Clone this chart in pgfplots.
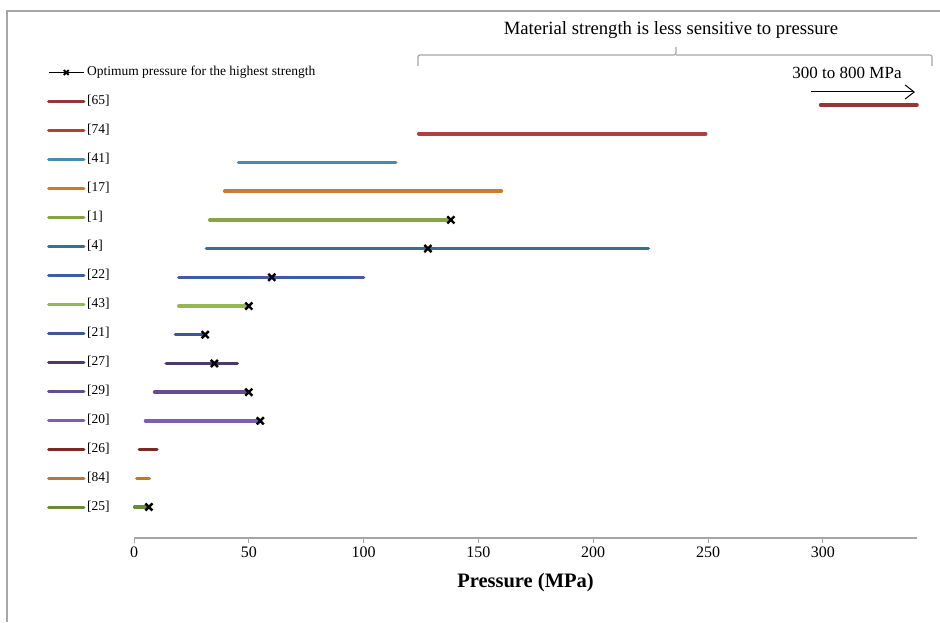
\documentclass[border=0pt]{standalone}
\usepackage{fontspec}
\setmainfont{Liberation Serif}
\usepackage{pgfplots}
\pgfplotsset{compat=1.18}
\usetikzlibrary{arrows.meta}
\definecolor{c65}{HTML}{943634}
\definecolor{c74}{HTML}{AE403D}
\definecolor{c41}{HTML}{4A8AAE}
\definecolor{c17}{HTML}{CC7A30}
\definecolor{c1}{HTML}{86A443}
\definecolor{c4}{HTML}{3F6F88}
\definecolor{c22}{HTML}{3F5CA6}
\definecolor{c43}{HTML}{93B84E}
\definecolor{c21}{HTML}{3B5794}
\definecolor{c27}{HTML}{4B3A6A}
\definecolor{c29}{HTML}{664B93}
\definecolor{c20}{HTML}{7D5EAF}
\definecolor{c26}{HTML}{7A2A24}
\definecolor{c84}{HTML}{BF7630}
\definecolor{c25}{HTML}{6A8C33}
\definecolor{gline}{HTML}{A6A6A6}
\begin{document}
\begin{tikzpicture}
\begin{axis}[
  scale only axis, width=783pt, height=527pt,
  xmin=0, xmax=341, ymin=-0.08, ymax=18.276,
  axis x line=bottom, axis y line=none,
  x axis line style={-, draw=gline, line width=1.2pt},
  xtick={0,50,...,300}, ytick=\empty,
  tick align=outside, major tick length=5pt,
  xtick style={draw=gline, line width=0.8pt},
  /pgf/number format/assume math mode=true,
  tick label style={font=\fontsize{16}{18}\selectfont},
  xlabel={\textbf{Pressure (MPa)}},
  xlabel style={font=\fontsize{20.5}{22}\selectfont, yshift=-9pt},
  clip=false,
  legend cell align=left,
  legend style={at={(rel axis cs:-0.1111,0.8947)}, anchor=north west,
    draw=none, fill=none, inner sep=0pt, outer sep=0pt, row sep=17pt,
    font=\fontsize{13.5}{15}\selectfont,
    nodes={text height=9pt, text depth=3pt, inner sep=0pt},
    /tikz/every odd column/.append style={column sep=1.5pt}},
  legend image code/.code={\draw[mark repeat=2,mark phase=2,#1] plot coordinates {(0pt,0pt) (17.5pt,0pt) (35pt,0pt)};},
]
\addlegendimage{black, line width=1.5pt, mark=x, mark size=3.5pt, mark options={line width=1.8pt}}
\addlegendentry{Optimum pressure for the highest strength}
\addplot[c65, line width=3.5pt, line cap=round] coordinates {(299,15) (341,15)};
\addlegendentry{[65]}
\addplot[c74, line width=3.5pt, line cap=round] coordinates {(124,14) (249,14)};
\addlegendentry{[74]}
\addplot[c41, line width=3.5pt, line cap=round] coordinates {(45.5,13) (114,13)};
\addlegendentry{[41]}
\addplot[c17, line width=3.5pt, line cap=round] coordinates {(39.5,12) (160,12)};
\addlegendentry{[17]}
\addplot[c1, line width=3.5pt, line cap=round] coordinates {(33,11) (138,11)};
\addlegendentry{[1]}
\addplot[c4, line width=3.5pt, line cap=round] coordinates {(31.5,10) (224,10)};
\addlegendentry{[4]}
\addplot[c22, line width=3.5pt, line cap=round] coordinates {(19.5,9) (100,9)};
\addlegendentry{[22]}
\addplot[c43, line width=3.5pt, line cap=round] coordinates {(19.5,8) (50,8)};
\addlegendentry{[43]}
\addplot[c21, line width=3.5pt, line cap=round] coordinates {(18,7) (31,7)};
\addlegendentry{[21]}
\addplot[c27, line width=3.5pt, line cap=round] coordinates {(14,6) (45,6)};
\addlegendentry{[27]}
\addplot[c29, line width=3.5pt, line cap=round] coordinates {(9,5) (50,5)};
\addlegendentry{[29]}
\addplot[c20, line width=3.5pt, line cap=round] coordinates {(5,4) (55,4)};
\addlegendentry{[20]}
\addplot[c26, line width=3.5pt, line cap=round] coordinates {(2.3,3) (10,3)};
\addlegendentry{[26]}
\addplot[c84, line width=3.5pt, line cap=round] coordinates {(1.2,2) (6.7,2)};
\addlegendentry{[84]}
\addplot[c25, line width=3.5pt, line cap=round] coordinates {(0.3,1) (6.5,1)};
\addlegendentry{[25]}
\addplot[only marks, mark=x, mark size=5pt, mark options={black, line width=2.4pt}, forget plot]
  coordinates {(138,11) (128,10) (60,9) (50,8) (31,7) (35,6) (50,5) (55,4) (6.5,1)};
\coordinate (O) at (rel axis cs:-0.17114,1.02087);
\end{axis}
\begin{scope}[shift={(O)}, x=1pt, y=-1pt]
  \draw[gline, line width=1.5pt] (7,622) -- (7,11) -- (940,11);
  \draw[gline, line width=1.2pt, rounded corners=2pt] (418,66) -- (418,55) -- (676,55) -- (676,47);
  \draw[gline, line width=1.2pt, rounded corners=2pt] (676,55) -- (932,55) -- (932,66);
  \node[font=\fontsize{18.7}{20}\selectfont] at (671,30) {Material strength is less sensitive to pressure};
  \node[font=\fontsize{17}{19}\selectfont] at (847,73) {300 to 800 MPa};
  \draw[black, line width=1pt, -{Straight Barb[length=9pt,width=14pt]}] (811,92) -- (915,92);
\end{scope}
\pgfresetboundingbox
\path (O) rectangle ++(940pt,-622pt);
\end{tikzpicture}
\end{document}
